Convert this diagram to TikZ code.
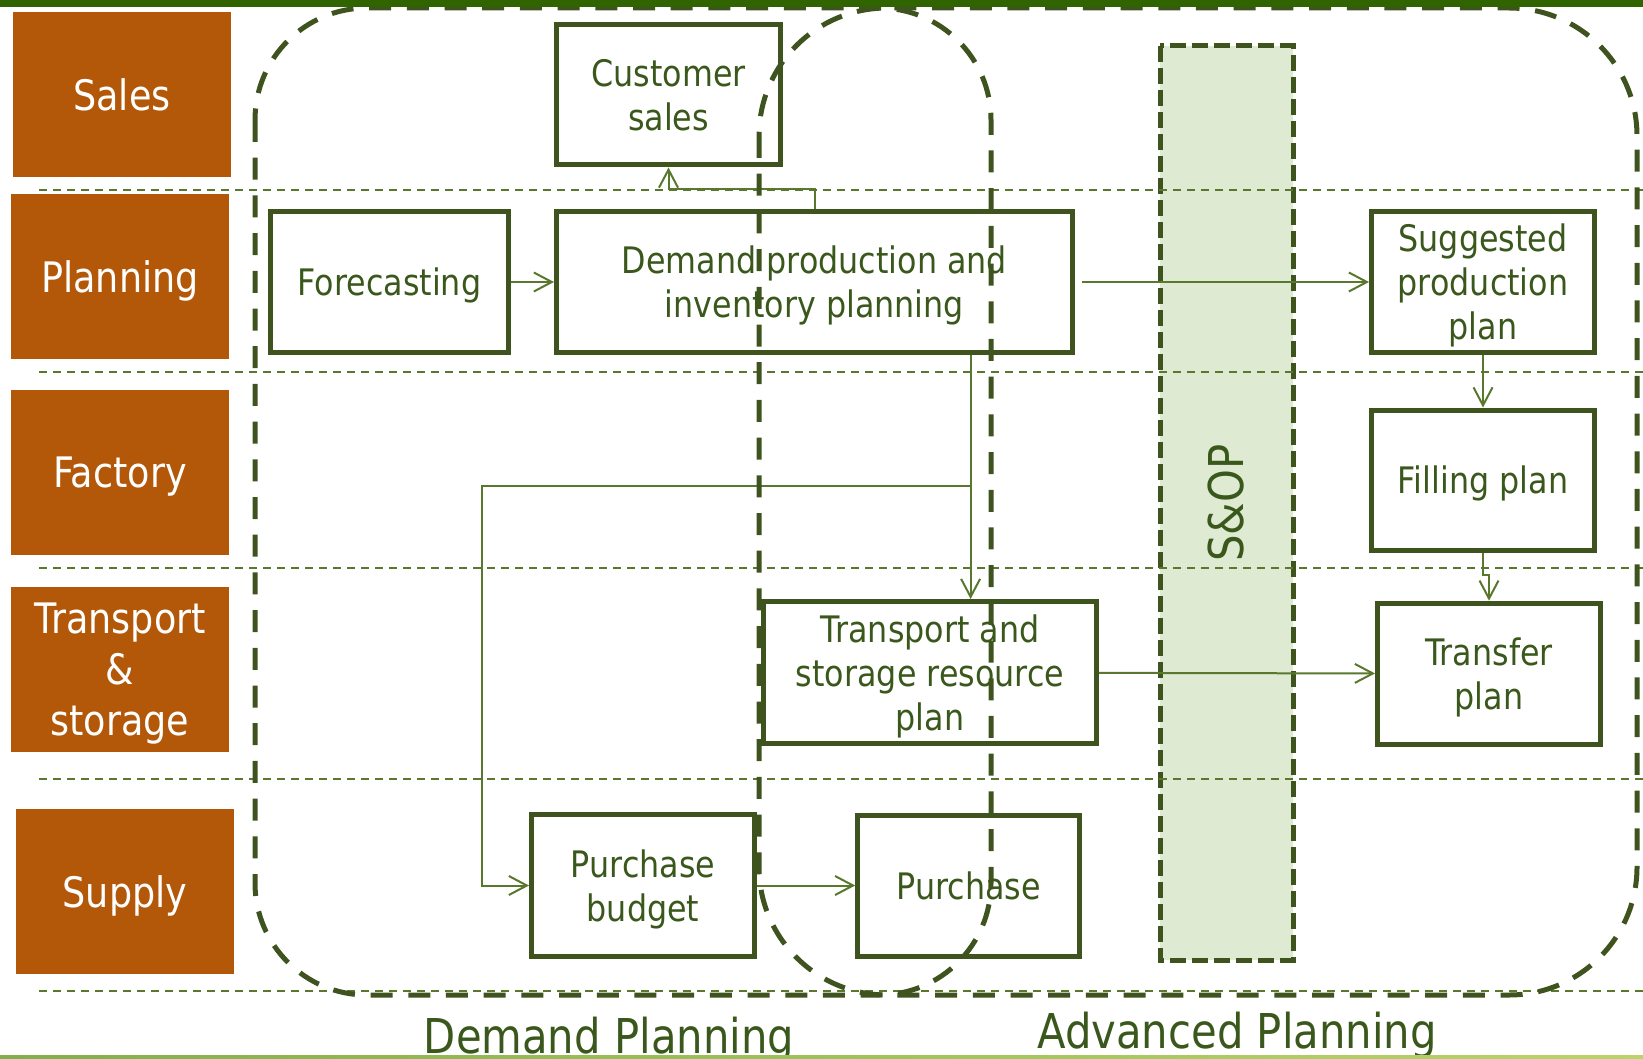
\documentclass[tikz,border=0pt]{standalone}
\usepackage{fontspec}
\setmainfont{DejaVu Sans}[FakeStretch=0.87]
\usepackage{tikz}
\usetikzlibrary{arrows.meta}
\definecolor{lanebrown}{RGB}{179,87,8}
\definecolor{boxgreen}{RGB}{62,83,30}
\definecolor{textgreen}{RGB}{58,88,28}
\definecolor{flowgreen}{RGB}{90,120,45}
\definecolor{sopfill}{RGB}{222,235,210}
\definecolor{topbar}{RGB}{47,100,0}
\definecolor{barleft}{RGB}{130,175,75}
\definecolor{barright}{RGB}{185,212,105}

\begin{document}
\begin{tikzpicture}[x=1pt,y=-1pt]
			\tikzstyle{every node}+=[inner sep=0pt]
			\tikzstyle{lane}=[fill=lanebrown, text=white, minimum width=218pt, minimum height=165pt, text depth=0pt, font=\fontsize{42}{51}\selectfont, align=center]
			\tikzstyle{procbox}=[draw=boxgreen, line width=5pt, text=textgreen, minimum height=141pt, text depth=0pt, font=\fontsize{36.5}{44}\selectfont, align=center]
			\tikzstyle{flow}=[flowgreen, line width=2pt, -{Straight Barb[length=18pt,width=19pt]}]
			\tikzstyle{lanesep}=[flowgreen, line width=2pt, dash pattern=on 8pt off 6pt]
			\tikzstyle{region}=[boxgreen, line width=5pt, dash pattern=on 22pt off 15.7pt]
			\tikzstyle{sopbox}=[draw=boxgreen, fill=sopfill, line width=5pt, dash pattern=on 16pt off 6pt, text=textgreen, font=\fontsize{48}{56}\selectfont]
			\useasboundingbox (0,0) rectangle (1643,1059);
			\node [sopbox, rotate=90, minimum width=914pt, minimum height=133pt] (sop) at (1226.5,503) {S\&OP};
			\draw [lanesep] (39,190) -- (1643,190);
			\draw [lanesep] (39,371.7) -- (1643,371.7);
			\draw [lanesep] (39,568) -- (1643,568);
			\draw [lanesep] (39,779) -- (1643,779);
			\draw [lanesep] (39,991) -- (1643,991);
			\node [lane] (sales) at (122,94.5) {Sales};
			\node [lane] (planning) at (120,276.5) {Planning};
			\node [lane] (factory) at (120,472.5) {Factory};
			\node [lane] (transport) at (120,669.5) {Transport\\\&\\storage};
			\node [lane] (supply) at (125,891.5) {Supply};
			\node [procbox, minimum width=224pt, minimum height=140pt] (cust) at (668.5,95) {Customer\\sales};
			\node [procbox, minimum width=238pt] (fore) at (389.5,282) {Forecasting};
			\node [procbox, minimum width=516pt] (dem) at (814.5,282) {Demand production and\\inventory planning};
			\node [procbox, minimum width=223pt] (sugg) at (1483,282) {Suggested\\production\\plan};
			\node [procbox, minimum width=223pt, minimum height=140pt] (fill) at (1483,480) {Filling plan};
			\node [procbox, minimum width=333pt, minimum height=142pt] (tsp) at (930,672.5) {Transport and\\storage resource\\plan};
			\node [procbox, minimum width=223pt] (trf) at (1489,673.7) {Transfer\\plan};
			\node [procbox, minimum width=223pt, minimum height=142pt] (pb) at (643,885.5) {Purchase\\budget};
			\node [procbox, minimum width=222pt] (pur) at (968.7,885.5) {Purchase};
			\coordinate (split) at (970.6,486);
			\coordinate (bend) at (482,486);
			\draw [flow] (fore) -- (dem);
			\draw [flow] (dem.north) -- ++(0,-20) -| (cust.south);
			\draw [flow, shorten <=7pt] (dem.east) -- (sugg.west);
			\draw [flow] (split |- dem.south) -- (split |- tsp.north);
			\draw [flow] (split) -- (bend) |- (pb.west);
			\draw [flow] (pb) -- (pur);
			\draw [flow] (sugg) -- (fill);
			\draw [flow] (fill.south) -- ++(0,22) -| (trf.north);
			\draw [flow] (tsp) -- (trf);
			\draw [region, rounded corners=112pt] (255,8) rectangle (991,995);
			\draw [region, rounded corners=128pt] (759,8) rectangle (1637,995);
			\node [anchor=base, text=textgreen, font=\fontsize{48}{56}\selectfont] (dplan) at (609,1053) {Demand Planning};
			\node [anchor=base, text=textgreen, font=\fontsize{48}{56}\selectfont] (aplan) at (1237,1048) {Advanced Planning};
			\fill [topbar] (0,0) rectangle (1643,7);
			\shade [left color=barleft, right color=barright] (0,1055) rectangle (1643,1059);
\end{tikzpicture}
\end{document}
